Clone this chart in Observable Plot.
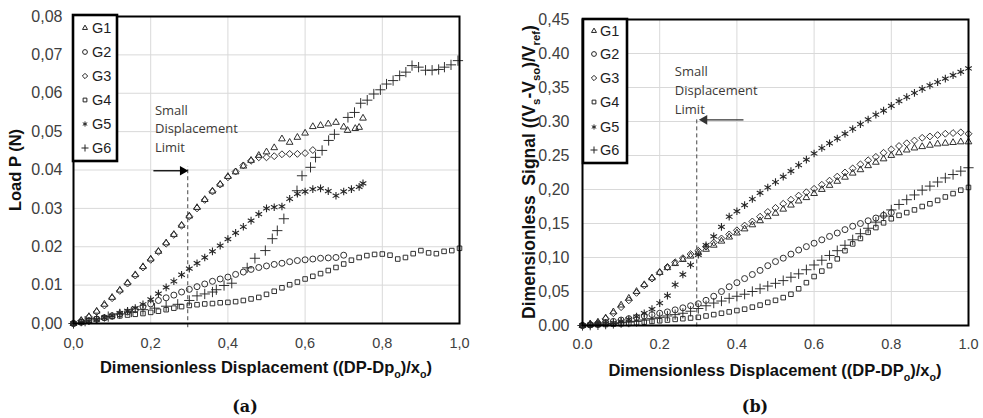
<!DOCTYPE html>
<html><head><meta charset="utf-8">
<script src="https://cdn.jsdelivr.net/npm/d3@7"></script>
<script src="https://cdn.jsdelivr.net/npm/@observablehq/plot@0.6"></script>
<style>
body{margin:0;background:#fff;}
#wrap{position:relative;width:983px;height:418px;overflow:hidden;background:#fff;}
#left{position:absolute;left:0;top:0;}
#right{position:absolute;left:490px;top:0;}
.cap{position:absolute;top:396px;line-height:22px;font-family:"DejaVu Serif",serif;font-weight:bold;font-size:16px;color:#111;transform:translateX(-50%);}
</style></head><body>
<div id="wrap"><div id="left"></div><div id="right"></div>
<div class="cap" style="left:245px">(a)</div><div class="cap" style="left:755px">(b)</div></div>
<script>
// ---------- shared ----------
const seriesNames = ["G1","G2","G3","G4","G5","G6"];
const xGrid = [0,0.02,0.04,0.06,0.08,0.10,0.12,0.14,0.16,0.18,0.20,0.22,0.24,0.26,0.28,0.30,0.32,0.34,0.36,0.38,0.40,0.42,0.44,0.46,0.48,0.50,0.52,0.54,0.56,0.58,0.60,0.62,0.64,0.66,0.68,0.70,0.72,0.74,0.76,0.78,0.80,0.82,0.84,0.86,0.88,0.90,0.92,0.94,0.96,0.98,1.00];

// ---------- panel (a): Load P (N) ----------
const leftG1x = [0,0.02,0.04,0.06,0.08,0.10,0.12,0.14,0.16,0.18,0.20,0.22,0.24,0.26,0.28,0.30,0.32,0.34,0.36,0.38,0.40,0.42,0.44,0.46,0.48,0.50,0.52,0.54,0.56,0.58,0.60,0.62,0.64,0.66,0.68,0.70,0.71,0.73,0.74,0.75];
const leftG1y = [0,0.0008,0.0018,0.0032,0.0050,0.0068,0.0087,0.0106,0.0127,0.0148,0.0168,0.0188,0.0210,0.0232,0.0256,0.0280,0.0302,0.0323,0.0345,0.0363,0.0383,0.0395,0.0410,0.0425,0.0438,0.0447,0.0458,0.0481,0.0472,0.0485,0.0496,0.0513,0.0516,0.0520,0.0524,0.0512,0.0503,0.0508,0.0511,0.0535];
const leftG2y = [0,0.0003,0.0007,0.0011,0.0015,0.0020,0.0025,0.0030,0.0036,0.0044,0.0051,0.0060,0.0067,0.0074,0.0082,0.0089,0.0096,0.0103,0.0110,0.0116,0.0121,0.0128,0.0134,0.0141,0.0146,0.0150,0.0154,0.0157,0.0161,0.0164,0.0166,0.0168,0.0170,0.0171,0.0172,0.0178];
const leftG3y = [0,0.0007,0.0017,0.0030,0.0047,0.0066,0.0085,0.0104,0.0125,0.0146,0.0166,0.0187,0.0208,0.0231,0.0255,0.0279,0.0300,0.0322,0.0344,0.0362,0.0381,0.0396,0.0412,0.0424,0.0433,0.0433,0.0436,0.0441,0.0442,0.0442,0.0444,0.0452];
const leftG4y = [0,0.0004,0.0008,0.0012,0.0015,0.0018,0.0020,0.0022,0.0024,0.0026,0.0029,0.0032,0.0036,0.0040,0.0044,0.0047,0.0049,0.0051,0.0052,0.0054,0.0055,0.0057,0.0060,0.0064,0.0068,0.0076,0.0084,0.0093,0.0101,0.0108,0.0116,0.0123,0.0130,0.0138,0.0146,0.0155,0.0165,0.0172,0.0177,0.0180,0.0181,0.0178,0.0168,0.0172,0.0182,0.0190,0.0184,0.0182,0.0188,0.0190,0.0196];
const leftG5x = [0,0.02,0.04,0.06,0.08,0.10,0.12,0.14,0.16,0.18,0.20,0.22,0.24,0.26,0.28,0.30,0.32,0.34,0.36,0.38,0.40,0.42,0.44,0.46,0.48,0.50,0.52,0.54,0.56,0.58,0.60,0.62,0.64,0.66,0.68,0.70,0.72,0.74,0.75];
const leftG5y = [0,0.0003,0.0006,0.0010,0.0015,0.0020,0.0027,0.0033,0.0040,0.0050,0.0063,0.0078,0.0094,0.0110,0.0127,0.0143,0.0157,0.0172,0.0188,0.0203,0.0220,0.0236,0.0252,0.0268,0.0285,0.0300,0.0303,0.0305,0.0325,0.0338,0.0344,0.0350,0.0352,0.0345,0.0333,0.0344,0.0350,0.0356,0.0365];
const leftG6x = [0,0.03,0.06,0.09,0.12,0.15,0.18,0.21,0.24,0.27,0.30,0.32,0.34,0.36,0.37,0.39,0.41,0.45,0.47,0.497,0.515,0.528,0.545,0.579,0.592,0.614,0.627,0.644,0.661,0.676,0.711,0.728,0.744,0.761,0.778,0.795,0.811,0.828,0.845,0.861,0.877,0.894,0.912,0.929,0.946,0.961,0.978,0.996];
const leftG6y = [0,0.0006,0.0012,0.0018,0.0025,0.0030,0.0036,0.0040,0.0045,0.0050,0.0060,0.0072,0.0077,0.0082,0.0088,0.0099,0.0105,0.0145,0.0170,0.0190,0.0221,0.0242,0.0273,0.0346,0.0385,0.0407,0.0433,0.0451,0.0477,0.0493,0.0537,0.0550,0.0574,0.0582,0.0598,0.0609,0.0624,0.0633,0.0646,0.0655,0.0672,0.0668,0.0660,0.0660,0.0662,0.0668,0.0674,0.0685];
const leftXTicks = [0,0.2,0.4,0.6,0.8,1];
const leftXLabels = ["0,0","0,2","0,4","0,6","0,8","1,0"];
const leftYTicks = [0,0.01,0.02,0.03,0.04,0.05,0.06,0.07,0.08];
const leftYLabels = ["0,00","0.01","0.02","0.03","0.04","0,05","0,06","0,07","0,08"];

// ---------- panel (b): Dimensionless signal ----------
const rightG1y = [0,0.002,0.005,0.011,0.020,0.030,0.040,0.050,0.060,0.070,0.078,0.085,0.091,0.097,0.102,0.107,0.112,0.118,0.124,0.130,0.136,0.142,0.148,0.154,0.160,0.165,0.171,0.177,0.183,0.188,0.194,0.200,0.206,0.212,0.218,0.224,0.229,0.235,0.240,0.245,0.250,0.254,0.258,0.261,0.263,0.265,0.267,0.268,0.269,0.270,0.270];
const rightG2y = [0,0.001,0.002,0.004,0.006,0.008,0.010,0.012,0.014,0.016,0.018,0.020,0.023,0.026,0.029,0.032,0.037,0.043,0.050,0.057,0.063,0.069,0.075,0.081,0.088,0.094,0.099,0.105,0.111,0.116,0.121,0.126,0.131,0.136,0.141,0.146,0.150,0.154,0.158,0.162,0.166];
const rightG3y = [0,0.002,0.004,0.010,0.018,0.027,0.037,0.048,0.059,0.069,0.078,0.086,0.093,0.099,0.105,0.110,0.116,0.122,0.128,0.134,0.140,0.147,0.153,0.160,0.167,0.173,0.179,0.185,0.191,0.196,0.201,0.207,0.213,0.219,0.225,0.231,0.237,0.243,0.248,0.254,0.259,0.264,0.268,0.272,0.276,0.278,0.280,0.282,0.283,0.284,0.282];
const rightG4y = [0,0.0005,0.001,0.0015,0.002,0.0025,0.003,0.004,0.005,0.006,0.007,0.008,0.009,0.010,0.011,0.012,0.014,0.016,0.018,0.020,0.022,0.024,0.027,0.030,0.034,0.037,0.041,0.046,0.054,0.063,0.072,0.080,0.088,0.098,0.110,0.120,0.128,0.137,0.144,0.151,0.157,0.162,0.166,0.170,0.175,0.179,0.184,0.189,0.194,0.199,0.203];
const rightG5y = [0,0.001,0.002,0.003,0.004,0.006,0.009,0.013,0.018,0.024,0.033,0.044,0.060,0.075,0.089,0.104,0.118,0.131,0.145,0.160,0.168,0.177,0.186,0.195,0.203,0.211,0.219,0.227,0.236,0.244,0.253,0.261,0.268,0.275,0.282,0.289,0.296,0.303,0.310,0.316,0.323,0.330,0.336,0.342,0.348,0.353,0.358,0.363,0.368,0.373,0.378];
const rightG6y = [0,0.0005,0.001,0.002,0.003,0.004,0.005,0.006,0.008,0.010,0.012,0.014,0.016,0.018,0.021,0.025,0.029,0.033,0.036,0.040,0.043,0.046,0.050,0.054,0.058,0.062,0.066,0.071,0.076,0.082,0.089,0.096,0.103,0.110,0.118,0.126,0.135,0.143,0.152,0.161,0.170,0.178,0.185,0.192,0.199,0.205,0.211,0.217,0.222,0.227,0.232];
const rightXTicks = [0,0.2,0.4,0.6,0.8,1];
const rightXLabels = ["0.0","0.2","0.4","0.6","0.8","1.0"];
const rightYTicks = [0,0.05,0.10,0.15,0.20,0.25,0.30,0.35,0.40,0.45];
const rightYLabels = ["0.00","0,05","0,10","0,15","0,20","0.25","0.30","0,35","0.40","0,45"];

// ---------- annotation ("Small Displacement Limit") ----------
const annotLabels = ["Small","Displacement","Limit"];
const limitX = 0.296;
const leftAnnotX = 0.211;
const leftAnnotY = [0.0555,0.0507,0.0457];
const leftLimitY = [-0.0011,0.0409];
const leftArrowX = [0.207,0.283];
const leftArrowY = 0.0398;
const rightAnnotX = 0.239;
const rightAnnotY = [0.3725,0.3456,0.3172];
const rightLimitY = [-0.002,0.304];
const rightArrowX = [0.417,0.316];
const rightArrowY = 0.3025;

// ---------- helpers ----------
const symbolNames = ["triangle2","circle","diamond2","square2","asterisk","plus"];
const symbolR = [3.2,3.0,3.1,2.9,3.6,3.4];
const d3Symbols = [d3.symbolTriangle2,d3.symbolCircle,d3.symbolDiamond2,d3.symbolSquare2,d3.symbolAsterisk,d3.symbolPlus];
const rows = (xs, ys) => ys.map((y,i)=>({x: xs[i], y}));
const tickMap = (t, l) => { const m = new Map(t.map((v,i)=>[v,l[i]])); return d => m.get(d); };
const FONT = "'Liberation Sans', Arial, sans-serif";

function seriesMarks(list){
  return list.map((data,i)=>Plot.dot(data,{x:"x",y:"y",symbol:symbolNames[i],r:symbolR[i],stroke:"#262626",strokeWidth:i===4?1.1:0.95,fill:"none"}));
}

function annotMarks(ax, ay, lim, arrX, arrY, dir, arrowColor){
  const txt = annotLabels.map((t,i)=>({t, x: ax, y: ay[i]}));
  return [
    Plot.ruleX([limitX],{y1:lim[0],y2:lim[1],stroke:"#444",strokeWidth:1,strokeDasharray:"4,3"}),
    Plot.link([{x1:arrX[0],x2:arrX[1],y:arrY}],{x1:"x1",x2:"x2",y1:"y",y2:"y",stroke:arrowColor,strokeWidth:1.3}),
    Plot.dot([{x:arrX[1],y:arrY}],{x:"x",y:"y",symbol:"triangle",r:3.6,rotate:dir,fill:arrowColor,stroke:"none"}),
    Plot.text(txt,{x:"x",y:"y",text:"t",textAnchor:"start",fontSize:13,fontFamily:"'Open Sans', sans-serif",fill:"#3d3a37"})
  ];
}

function addLegend(svg, x0, y0, w, h, symX, txtX, rowY){
  const g = svg.append("g");
  g.append("rect").attr("x",x0).attr("y",y0).attr("width",w).attr("height",h)
    .attr("fill","#fff").attr("stroke","#000").attr("stroke-width",2.6);
  seriesNames.forEach((name,i)=>{
    g.append("path").attr("d", d3.symbol(d3Symbols[i], 18)())
      .attr("transform",`translate(${symX},${rowY[i]})`)
      .attr("fill","none").attr("stroke","#222").attr("stroke-width",1);
    g.append("text").attr("x",txtX).attr("y",rowY[i]).attr("dy","0.36em").attr("text-anchor","start")
      .attr("font-size",14.5).attr("fill","#1e1e1e").attr("font-family",FONT).text(name);
  });
}

function subText(sel, parts, size){
  parts.forEach(([t,sub],i)=>{
    const prevSub = i>0 && parts[i-1][1];
    const ts = sel.append("tspan").text(t);
    if (sub && !prevSub) ts.attr("dy", size*0.28).attr("font-size", size*0.65);
    else if (sub) ts.attr("font-size", size*0.65);
    else if (prevSub) ts.attr("dy", -size*0.28);
  });
}

// ---------- panel (a) ----------
const leftSeries = [
  rows(leftG1x,leftG1y),
  rows(xGrid.slice(0,36),leftG2y),
  rows(xGrid.slice(0,32),leftG3y),
  rows(xGrid,leftG4y),
  rows(leftG5x,leftG5y),
  rows(leftG6x,leftG6y)
];
const leftEl = Plot.plot({
  width:490, height:385,
  marginLeft:73, marginRight:31, marginTop:16, marginBottom:62,
  style:{fontFamily:FONT, background:"#fff", overflow:"visible"},
  x:{domain:[0,1]},
  y:{domain:[0,0.08]},
  marks:[
    Plot.gridX({ticks:leftXTicks, stroke:"#d9d9d9", strokeOpacity:1}),
    Plot.gridY({ticks:leftYTicks, stroke:"#d9d9d9", strokeOpacity:1}),
    ...seriesMarks(leftSeries),
    ...annotMarks(leftAnnotX,leftAnnotY,leftLimitY,leftArrowX,leftArrowY,90,"#000"),
    Plot.frame({stroke:"#000", strokeWidth:2}),
    Plot.axisX({ticks:leftXTicks, tickFormat:tickMap(leftXTicks,leftXLabels), tickSize:0, tickPadding:14, fontSize:14.5, color:"#404040", label:null}),
    Plot.axisY({ticks:leftYTicks, tickFormat:tickMap(leftYTicks,leftYLabels), tickSize:0, tickPadding:11, fontSize:16, color:"#404040", label:null})
  ]
});
document.getElementById("left").appendChild(leftEl);
const svgL = d3.select(leftEl.tagName.toLowerCase()==="svg" ? leftEl : leftEl.querySelector("svg"));
addLegend(svgL, 73, 15, 44, 146, 85, 92, [28,52,76,100,124,148]);
{
  const t = svgL.append("text").attr("x",266).attr("y",373).attr("text-anchor","middle")
    .attr("font-size",16.5).attr("font-weight","bold").attr("fill","#111").attr("font-family",FONT);
  subText(t, [["Dimensionless Displacement ((DP-Dp",false],["o",true],[")/x",false],["o",true],[")",false]], 16.5);
  svgL.append("text").attr("transform","translate(21,170) rotate(-90)").attr("text-anchor","middle")
    .attr("font-size",16.5).attr("font-weight","bold").attr("fill","#111").attr("font-family",FONT).text("Load P (N)");
}

// ---------- panel (b) ----------
const rightSeries = [
  rows(xGrid,rightG1y),
  rows(xGrid.slice(0,41),rightG2y),
  rows(xGrid,rightG3y),
  rows(xGrid,rightG4y),
  rows(xGrid,rightG5y),
  rows(xGrid,rightG6y)
];
const rightEl = Plot.plot({
  width:493, height:385,
  marginLeft:92, marginRight:15, marginTop:19, marginBottom:60,
  style:{fontFamily:FONT, background:"#fff", overflow:"visible"},
  x:{domain:[0,1]},
  y:{domain:[0,0.45]},
  marks:[
    Plot.gridX({ticks:rightXTicks, stroke:"#d9d9d9", strokeOpacity:1}),
    Plot.gridY({ticks:rightYTicks, stroke:"#d9d9d9", strokeOpacity:1}),
    ...seriesMarks(rightSeries),
    ...annotMarks(rightAnnotX,rightAnnotY,rightLimitY,rightArrowX,rightArrowY,-90,"#333"),
    Plot.frame({stroke:"#000", strokeWidth:2}),
    Plot.axisX({ticks:rightXTicks, tickFormat:tickMap(rightXTicks,rightXLabels), tickSize:0, tickPadding:13, fontSize:14.5, color:"#404040", label:null}),
    Plot.axisY({ticks:rightYTicks, tickFormat:tickMap(rightYTicks,rightYLabels), tickSize:0, tickPadding:13, fontSize:16, color:"#404040", label:null})
  ]
});
document.getElementById("right").appendChild(rightEl);
const svgR = d3.select(rightEl.tagName.toLowerCase()==="svg" ? rightEl : rightEl.querySelector("svg"));
addLegend(svgR, 93, 19, 44, 144, 104, 110, [31,54,78,102,127,150]);
{
  const t = svgR.append("text").attr("x",285).attr("y",376).attr("text-anchor","middle")
    .attr("font-size",16.5).attr("font-weight","bold").attr("fill","#111").attr("font-family",FONT);
  subText(t, [["Dimensionless Displacement ((DP-DP",false],["o",true],[")/x",false],["o",true],[")",false]], 16.5);
  const ty = svgR.append("text").attr("transform","translate(45,172) rotate(-90)").attr("text-anchor","middle")
    .attr("font-size",17.5).attr("font-weight","bold").attr("fill","#111").attr("font-family",FONT);
  subText(ty, [["Dimensionless  Signal ((V",false],["s",true],["-V",false],["so",true],[")/V",false],["ref",true],[")",false]], 17.5);
}
</script>
</body></html>
